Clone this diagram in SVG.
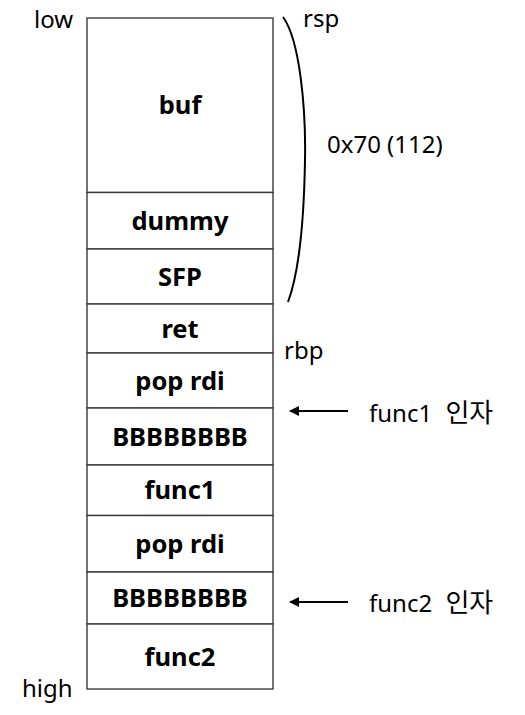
<svg xmlns="http://www.w3.org/2000/svg" width="525" height="715" viewBox="0 0 525 715">
  <style>
    .cell { fill: #ffffff; stroke: #3a3a3a; stroke-width: 1.4; }
    .lbl { font-family: "Noto Sans", "Noto Sans CJK KR", sans-serif; font-weight: bold; font-size: 25.5px; fill: #000; text-anchor: middle; }
    .txt { font-family: "Noto Sans", "Noto Sans CJK KR", sans-serif; font-size: 24px; fill: #000; }
    .ko { font-family: "Noto Sans CJK KR", sans-serif; font-size: 26px; }
    .conn { stroke: #000; stroke-width: 2; fill: none; }
  </style>
  <defs>
    <marker id="ah" viewBox="0 0 10 10" refX="9" refY="5" markerWidth="5" markerHeight="5" orient="auto">
      <path d="M0,0 L10,5 L0,10 z" fill="#000"/>
    </marker>
  </defs>
  <rect width="525" height="715" fill="#ffffff"/>
  <g id="buf"><rect class="cell" x="87" y="18" width="186" height="174.5"/><text class="lbl" x="180" y="114">buf</text></g>
  <g id="dummy"><rect class="cell" x="87" y="192.5" width="186" height="56.5"/><text class="lbl" x="180" y="230">dummy</text></g>
  <g id="sfp"><rect class="cell" x="87" y="249" width="186" height="55"/><text class="lbl" x="180" y="286">SFP</text></g>
  <g id="ret"><rect class="cell" x="87" y="304" width="186" height="49"/><text class="lbl" x="180" y="338">ret</text></g>
  <g id="poprdi1"><rect class="cell" x="87" y="353" width="186" height="55"/><text class="lbl" x="180" y="390">pop rdi</text></g>
  <g id="bbb1"><rect class="cell" x="87" y="408" width="186" height="57"/><text class="lbl" x="180" y="446">BBBBBBBB</text></g>
  <g id="func1"><rect class="cell" x="87" y="465" width="186" height="50.5"/><text class="lbl" x="180" y="499">func1</text></g>
  <g id="poprdi2"><rect class="cell" x="87" y="515.5" width="186" height="56.5"/><text class="lbl" x="180" y="553">pop rdi</text></g>
  <g id="bbb2"><rect class="cell" x="87" y="572" width="186" height="52"/><text class="lbl" x="180" y="607">BBBBBBBB</text></g>
  <g id="func2"><rect class="cell" x="87" y="624" width="186" height="65"/><text class="lbl" x="180" y="666">func2</text></g>
  <g id="labels">
    <text class="txt" x="34" y="28">low</text>
    <text class="txt" x="22" y="697">high</text>
    <text class="txt" x="303" y="27">rsp</text>
    <text class="txt" x="284" y="359">rbp</text>
    <text class="txt" x="327" y="153">0x70 (112)</text>
    <text class="txt" x="369" y="422">func1 <tspan class="ko" dx="7">인자</tspan></text>
    <text class="txt" x="369" y="612">func2 <tspan class="ko" dx="7">인자</tspan></text>
  </g>
  <g id="connectors">
    <path class="conn" d="M283,17 C300,40 306,110 305,160 C304,220 300,270 288,302"/>
    <line class="conn" x1="348" y1="411" x2="290" y2="411" marker-end="url(#ah)"/>
    <line class="conn" x1="348" y1="602" x2="290" y2="602" marker-end="url(#ah)"/>
  </g>
</svg>
